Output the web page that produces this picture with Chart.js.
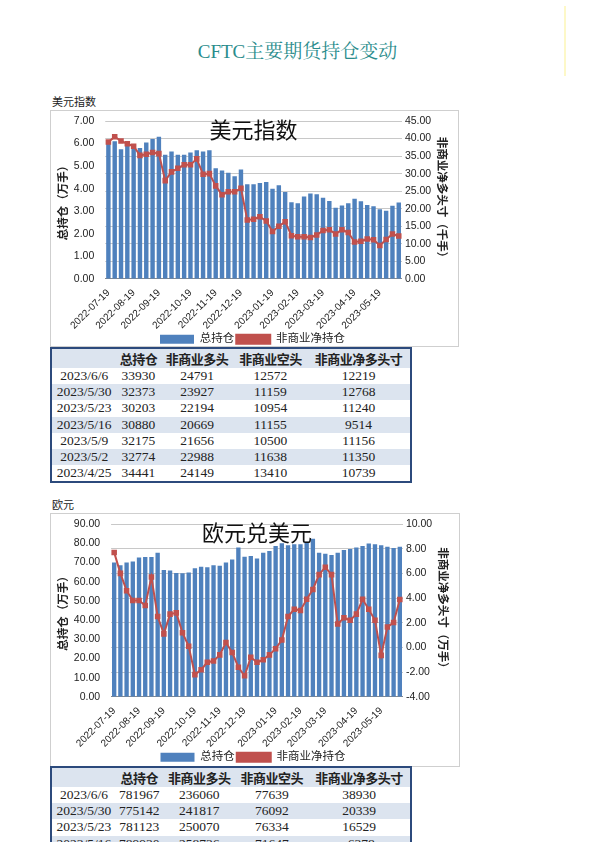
<!DOCTYPE html>
<html><head><meta charset="utf-8">
<script src="https://cdn.jsdelivr.net/npm/chart.js@4"></script>
<style>
body{margin:0;width:595px;height:842px;background:#fff;position:relative;overflow:hidden;font-family:"Noto Sans CJK SC",sans-serif}
#title{position:absolute;left:0;width:595px;top:36px;text-align:center;color:#2a8c8c;font-family:"Liberation Serif","Noto Serif CJK SC","Noto Sans CJK SC",serif;font-size:19px}
.lab{position:absolute;left:52px;font-size:11px;color:#222}
.box{position:absolute;border:1px solid #cfcfcf;background:#fff;overflow:hidden}
.box div{position:relative;width:100%}
table{position:absolute;left:50px;border-collapse:collapse;font-family:"Liberation Serif","Noto Sans CJK SC",serif;font-size:13.5px;color:#222;border:2px solid #2c4a7c;width:362px}
td,th{padding:0;height:16.2px;text-align:center;white-space:nowrap}
th{font-family:"Noto Sans CJK SC";font-weight:bold;font-size:13px;background:#dce4ef;letter-spacing:-0.5px}
tr:nth-child(odd) td{background:#dce4ef}
#bar{position:absolute;left:564px;top:6px;width:2px;height:70px;background:#fdf8c8}
</style></head><body>
<div id="bar"></div>
<div id="title">CFTC主要期货持仓变动</div>
<div class="lab" style="top:93px">美元指数</div>
<div class="box" style="left:50px;top:110px;width:407px;height:235px"><div style="height:244px"><canvas id="c1"></canvas></div></div>
<table id="t1" style="top:347px"></table>
<div class="lab" style="top:496px">欧元</div>
<div class="box" style="left:50px;top:513px;width:408px;height:252px"><div style="height:259px"><canvas id="c2"></canvas></div></div>
<table id="t2" style="top:766px"></table>
<script>
const dates=[];(function(){let d=new Date(Date.UTC(2022,6,19));for(let i=0;i<47;i++){dates.push(d.toISOString().slice(0,10));d=new Date(d.getTime()+7*864e5);}})();
const usdTotal=[6.15,6.1,5.75,5.9,5.95,5.8,6.05,6.2,6.3,5.5,5.65,5.5,5.5,5.6,5.7,5.65,5.7,4.9,4.8,4.7,4.55,4.85,4.2,4.2,4.25,4.3,4.0,4.15,3.85,3.4,3.35,3.65,3.78,3.75,3.6,3.45,3.15,3.25,3.35,3.55,3.44,3.28,3.22,3.09,3.02,3.24,3.39];
const usdNet=[39,40.5,39.3,38.5,37.8,35.2,35.5,36,35.7,28,30.5,31.5,32.5,32.5,34.2,29.8,30,26.5,24,24.8,24.8,25.8,16.8,17,17.7,16.5,13.5,15,16.3,12.3,12,12,11.8,12.5,13.8,14,12.8,14,13.2,10.5,10.74,11.35,11.16,9.51,11.24,12.77,12.22];
const eurTotal=[70,68.5,70,70.5,72.5,72.8,72.8,75,66,65.8,64.5,64.3,64.8,67,67.8,67.5,68.5,68.3,70,71.5,77.8,73,73.3,72,75,76,78.5,80,79,79.5,79.5,80.8,82.3,75,74.5,73.8,75,76.5,77,77.8,78.5,79.8,79.5,79.0,78.1,77.5,78.2];
const eurNet=[7.7,6,4.6,3.8,3.8,3.4,5.7,2.5,1.1,2.7,2.8,1.2,0.1,-2.2,-1.8,-1.2,-1.1,-0.6,0.4,-0.4,-1.6,-2.3,-0.8,-1.2,-1.0,-0.6,-0.1,0.6,2.5,3.1,3.0,3.9,4.7,5.9,6.5,5.9,1.9,2.4,2.2,2.7,3.9,3.1,2.2,-0.64,1.65,2.03,3.89];
const tblHead=["","总持仓","非商业多头","非商业空头","非商业净多头寸"];
const tblDates=["2023/6/6","2023/5/30","2023/5/23","2023/5/16","2023/5/9","2023/5/2","2023/4/25"];
const usdTotalT=[33930,32373,30203,30880,32175,32774,34441];
const usdLongT=[24791,23927,22194,20669,21656,22988,24149];
const usdShortT=[12572,11159,10954,11155,10500,11638,13410];
const usdNetT=[12219,12768,11240,9514,11156,11350,10739];
const eurTotalT=[781967,775142,781123,789930];
const eurLongT=[236060,241817,250070,258736];
const eurShortT=[77639,76092,76334,71647];
const eurNetT=[38930,20339,16529,-6378];

function tbl(id,n,a,b,c,d){let h="<tr>"+tblHead.map(x=>"<th>"+x+"</th>").join("")+"</tr>";
for(let i=0;i<n;i++)h+=`<tr><td>${tblDates[i]}</td><td>${a[i]}</td><td>${b[i]}</td><td>${c[i]}</td><td>${d[i]}</td></tr>`;
document.getElementById(id).innerHTML=h;}
tbl("t1",7,usdTotalT,usdLongT,usdShortT,usdNetT);
tbl("t2",4,eurTotalT,eurLongT,eurShortT,eurNetT);

function tickLab(i){const d=new Date(dates[i]+"T00:00:00Z");for(let k=0;k<7;k++){const e=new Date(d.getTime()+k*864e5);if(e.getUTCDate()===19)return e.toISOString().slice(0,10);}return "";}
const inTitle={id:"inTitle",afterDraw(c){const a=c.chartArea,ctx=c.ctx;ctx.save();ctx.font="22px 'Noto Sans CJK SC'";ctx.fillStyle="#111";ctx.textAlign="center";ctx.textBaseline="top";ctx.fillText(c.options.plugins.inTitle.text,(a.left+a.right)/2,a.top-2);ctx.restore();}};
Chart.defaults.font.family="'Liberation Sans','Noto Sans CJK SC'";
Chart.defaults.color="#222";
function mk(id,title,tot,net,lmax,lstep,rmin,rmax,rstep,rtitle){
new Chart(document.getElementById(id),{type:"bar",plugins:[inTitle],
data:{labels:dates,datasets:[
{type:"line",label:"非商业净持仓",data:net,yAxisID:"y1",borderColor:"#c0504d",backgroundColor:"#c0504d",borderWidth:2,pointStyle:"rect",pointRadius:2.5,order:0},
{label:"总持仓",data:tot,yAxisID:"y",backgroundColor:"#4f81bd",barPercentage:0.7,categoryPercentage:1,order:1}]},
options:{responsive:true,maintainAspectRatio:false,animation:false,
layout:{padding:{top:10,right:10,left:6,bottom:0}},
plugins:{inTitle:{text:title},tooltip:{enabled:false},legend:{position:"bottom",reverse:true,labels:{boxWidth:34,boxHeight:9,font:{size:11.5},padding:2}}},
scales:{x:{grid:{display:false},border:{color:"#888"},ticks:{autoSkip:false,maxRotation:45,minRotation:45,font:{size:10},padding:0,callback:(v,i)=>tickLab(i)}},
y:{min:0,max:lmax,ticks:{stepSize:lstep,font:{size:10.5},callback:v=>v.toFixed(2)},grid:{display:false},border:{display:false},title:{display:true,text:"总持仓（万手）",font:{size:11.5,weight:"bold"},padding:0}},
y1:{position:"right",min:rmin,max:rmax,ticks:{stepSize:rstep,font:{size:10.5},callback:v=>v.toFixed(2)},grid:{color:"#c8c8c8",drawTicks:false},border:{display:false},title:{display:true,text:rtitle,font:{size:11.5,weight:"bold"},padding:0}}}}});}
mk("c1","美元指数",usdTotal,usdNet,7,1,0,45,5,"非商业净多头寸（千手）");
mk("c2","欧元兑美元",eurTotal,eurNet,90,10,-4,10,2,"非商业净多头寸（万手）");
</script></body></html>
